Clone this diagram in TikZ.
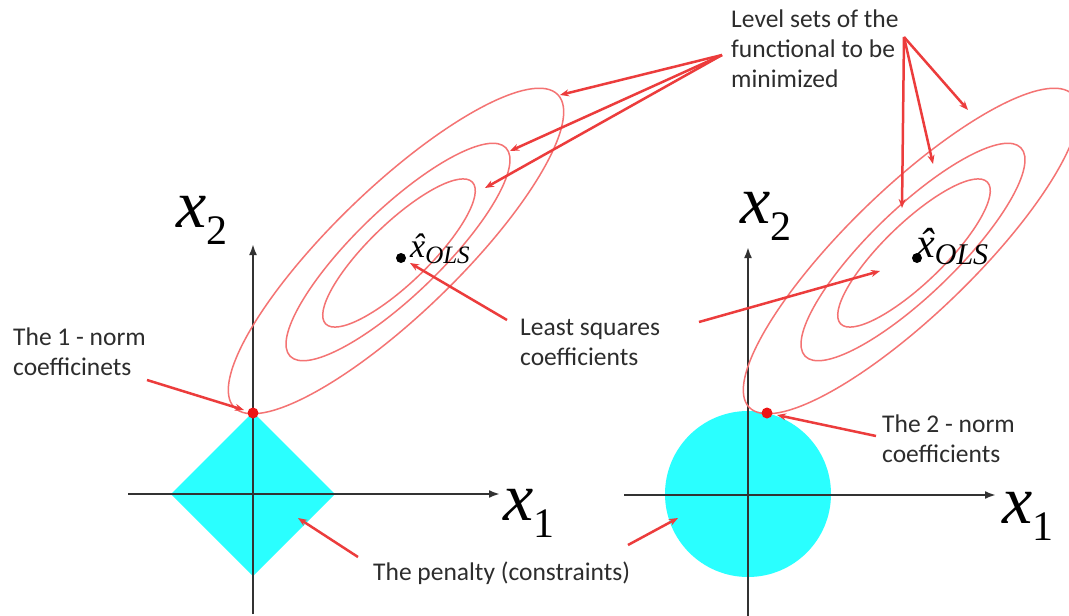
\documentclass[tikz,border=0pt]{standalone}
\usepackage{fontspec}
\setmainfont{Carlito}
\newfontfamily\tms{Liberation Serif}
\usetikzlibrary{arrows.meta}
\definecolor{txt}{RGB}{45,45,45}
\definecolor{ellred}{RGB}{244,115,115}
\definecolor{arrred}{RGB}{236,60,60}
\definecolor{axisc}{RGB}{50,50,50}
\definecolor{cyanfill}{RGB}{42,255,255}
\definecolor{dotred}{RGB}{236,20,20}
\newcommand{\twolines}[2]{\begin{tabular}[t]{@{}l@{}}#1\\#2\end{tabular}}
\newcommand{\threelines}[3]{\begin{tabular}[t]{@{}l@{}}#1\\#2\\#3\end{tabular}}
% axis label: italic x with lowered upright digit
\newcommand{\axvar}[1]{{\tms\fontsize{68}{68}\selectfont\itshape x}\raisebox{-17pt}{\tms\fontsize{42}{42}\selectfont #1}}
% estimator label: x-hat with italic subscript OLS
\newcommand{\xols}[3]{{\tms\fontsize{#1}{#1}\selectfont\itshape\rlap{\kern0.07em\symbol{"02C6}}x}\raisebox{-#3pt}{\tms\fontsize{#2}{#2}\selectfont\itshape OLS}}
\begin{document}
\begin{tikzpicture}[x=1pt,y=-1pt,
  lbl/.style={anchor=base west, inner sep=0pt, text=txt, font=\fontsize{25.5}{30}\selectfont},
  axlbl/.style={anchor=base west, inner sep=0pt},
  ell/.style={draw=ellred, line width=1.5pt},
  axisline/.style={draw=axisc, line width=2.6pt, -{Latex[length=11pt,width=8pt]}},
  pointer/.style={draw=arrred, line width=2.5pt, -{Stealth[length=9pt,width=7pt]}},
  reddot/.style={circle, fill=dotred, inner sep=0pt, minimum size=11pt},
  blackdot/.style={circle, fill=black, inner sep=0pt, minimum size=10pt}
]
\useasboundingbox (0,0) rectangle (1069,616);
\fill[white] (0,0) rectangle (1069,616);

% ---------- penalty regions ----------
\fill[cyanfill] (253,412) -- (335,494) -- (253,576) -- (171,494) -- cycle;
\fill[cyanfill] (748,494) circle [radius=83];

% ---------- axes ----------
\coordinate (lyb) at (253,614);
\coordinate (lyt) at (253,244);
\coordinate (lxl) at (128,494);
\coordinate (lxr) at (500,494);
\draw[axisline] (lyb) -- (lyt);
\draw[axisline] (lxl) -- (lxr);
\coordinate (ryb) at (748,616);
\coordinate (ryt) at (748,247);
\coordinate (rxl) at (624,495);
\coordinate (rxr) at (996,495);
\draw[axisline] (ryb) -- (ryt);
\draw[axisline] (rxl) -- (rxr);

% ---------- level sets ----------
\draw[ell, rotate around={44:(396,251)}] (396,251) ellipse [x radius=225, y radius=63];
\draw[ell, rotate around={44:(398,252)}] (398,252) ellipse [x radius=150, y radius=43];
\draw[ell, rotate around={44:(399,253)}] (399,253) ellipse [x radius=102, y radius=30];
\draw[ell, rotate around={44:(911,251)}] (911,251) ellipse [x radius=225, y radius=63];
\draw[ell, rotate around={44:(913,252)}] (913,252) ellipse [x radius=150, y radius=43];
\draw[ell, rotate around={44:(914,253)}] (914,253) ellipse [x radius=102, y radius=30];

% ---------- points ----------
\node[reddot] (dl) at (253,413) {};
\node[reddot] (dr) at (767,413) {};
\node[blackdot] (ol) at (401,258) {};
\node[blackdot] (or) at (917,258) {};

% ---------- axis labels ----------
\node[axlbl] (x2l) at (176,227) {\axvar{2}};
\node[axlbl] (x1l) at (503,520) {\axvar{1}};
\node[axlbl] (x2r) at (740,223) {\axvar{2}};
\node[axlbl] (x1r) at (1002,523) {\axvar{1}};
\node[axlbl] (hl) at (410,257) {\xols{34}{25}{6}};
\node[axlbl] (hr) at (916,257) {\xols{42}{30}{7}};

% ---------- text labels ----------
\node[lbl] (tlevel) at (731,27) {\threelines{Level sets of the}{functional to be}{minimized}};
\node[lbl] (tone) at (13,345) {\twolines{The 1 - norm}{coefficinets}};
\node[lbl] (tls) at (520,335) {\twolines{Least squares}{coefficients}};
\node[lbl] (ttwo) at (882,432) {\twolines{The 2 - norm}{coefficients}};
\node[lbl] (tpen) at (373,580) {The penalty (constraints)};

% ---------- pointers ----------
\coordinate (lvA) at (722,55);
\coordinate (lvA1) at (560,95);
\coordinate (lvA2) at (510,151);
\coordinate (lvA3) at (485,188);
\draw[pointer] (lvA) -- (lvA1);
\draw[pointer] (lvA) -- (lvA2);
\draw[pointer] (lvA) -- (lvA3);
\coordinate (lvB) at (904,37);
\coordinate (lvB1) at (968,110);
\coordinate (lvB2) at (933,164);
\coordinate (lvB3) at (902,208);
\draw[pointer] (lvB) -- (lvB1);
\draw[pointer] (lvB) -- (lvB2);
\draw[pointer] (lvB) -- (lvB3);
\coordinate (lsA) at (507,320);
\coordinate (lsAt) at (410,263);
\draw[pointer] (lsA) -- (lsAt);
\coordinate (lsB) at (699,322);
\coordinate (lsBt) at (880,271);
\draw[pointer] (lsB) -- (lsBt);
\coordinate (pA) at (358,557);
\coordinate (pAt) at (298,518);
\draw[pointer] (pA) -- (pAt);
\coordinate (pB) at (628,545);
\coordinate (pBt) at (678,518);
\draw[pointer] (pB) -- (pBt);
\coordinate (n1) at (147,380);
\coordinate (n1t) at (244,410);
\draw[pointer] (n1) -- (n1t);
\coordinate (n2) at (876,436);
\coordinate (n2t) at (777,415);
\draw[pointer] (n2) -- (n2t);
\end{tikzpicture}
\end{document}
